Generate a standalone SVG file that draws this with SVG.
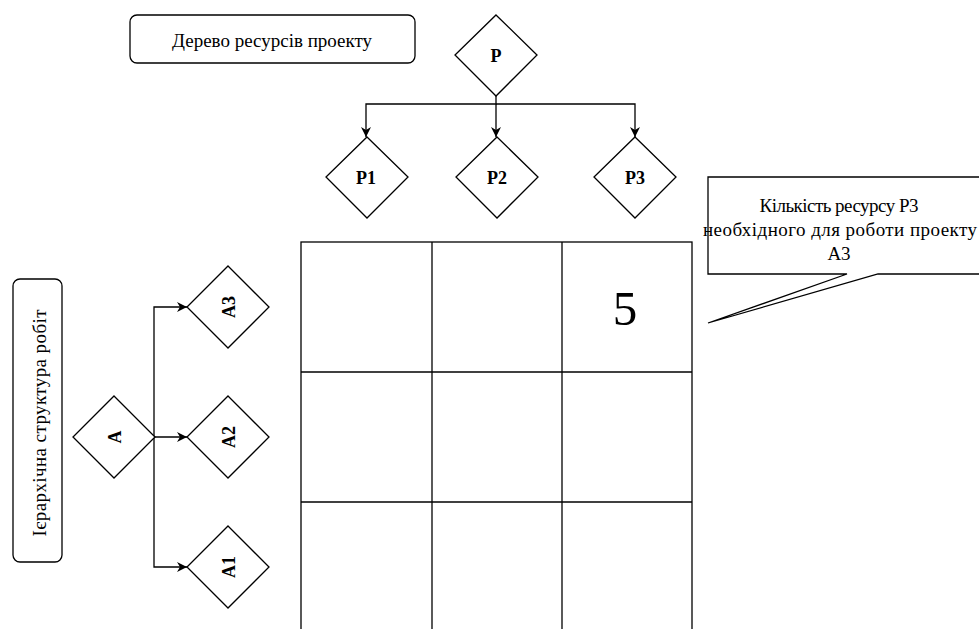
<svg xmlns="http://www.w3.org/2000/svg" width="979" height="629" viewBox="0 0 979 629">
<style>
  .shape { fill: #ffffff; stroke: #000000; stroke-width: 1.3; }
  .line { fill: none; stroke: #000000; stroke-width: 1.3; }
  .lbl { font-family: 'Liberation Serif', 'Times New Roman', serif; fill: #000000; text-anchor: middle; dominant-baseline: central; }
  .big { font-size: 19px; }
  .bold { font-size: 18px; font-weight: bold; }
</style>
<defs>
  <marker id="arr" viewBox="0 0 10 10" refX="10" refY="5" markerWidth="10" markerHeight="10" markerUnits="userSpaceOnUse" orient="auto">
    <path d="M0,0 L10,5 L0,10 L3,5 Z" fill="#000000"/>
  </marker>
</defs>
<rect width="979" height="629" fill="#ffffff"/>

<g id="connectors">
  <path class="line" d="M496,96 V104 H366 V137" marker-end="url(#arr)"/>
  <path class="line" d="M496,104 V137" marker-end="url(#arr)"/>
  <path class="line" d="M496,104 H635 V137" marker-end="url(#arr)"/>
  <path class="line" d="M154,437 H187" marker-end="url(#arr)"/>
  <path class="line" d="M154,437 V307 H187" marker-end="url(#arr)"/>
  <path class="line" d="M154,437 V567 H187" marker-end="url(#arr)"/>
</g>

<g id="title-resources">
  <rect class="shape" x="130" y="15" width="285" height="48" rx="7"/>
  <text class="lbl big" x="272" y="40" textLength="200">Дерево ресурсів проекту</text>
</g>

<g id="title-works">
  <rect class="shape" x="13" y="279" width="49" height="283" rx="7"/>
  <text class="lbl big" transform="translate(39,423) rotate(-90)" textLength="227">Ієрархічна структура робіт</text>
</g>

<g id="node-P">
  <polygon class="shape" points="496,15 537,55 496,96 455,55"/>
  <text class="lbl bold" x="496" y="56">P</text>
</g>
<g id="node-P1">
  <polygon class="shape" points="367,137 408,177 367,218 326,177"/>
  <text class="lbl bold" x="366" y="178">P1</text>
</g>
<g id="node-P2">
  <polygon class="shape" points="497,137 538,177 497,218 456,177"/>
  <text class="lbl bold" x="497" y="178">P2</text>
</g>
<g id="node-P3">
  <polygon class="shape" points="635,137 676,177 635,218 594,177"/>
  <text class="lbl bold" x="635" y="178">P3</text>
</g>

<g id="node-A">
  <polygon class="shape" points="114,396 155,437 114,478 73,437"/>
  <text class="lbl bold" transform="translate(115,437) rotate(-90)">A</text>
</g>
<g id="node-A3">
  <polygon class="shape" points="228,266 269,307 228,348 187,307"/>
  <text class="lbl bold" transform="translate(229,307) rotate(-90)">A3</text>
</g>
<g id="node-A2">
  <polygon class="shape" points="228,396 269,437 228,478 187,437"/>
  <text class="lbl bold" transform="translate(229,437) rotate(-90)">A2</text>
</g>
<g id="node-A1">
  <polygon class="shape" points="228,526 269,567 228,608 187,567"/>
  <text class="lbl bold" transform="translate(229,567) rotate(-90)">A1</text>
</g>

<g id="matrix">
  <rect class="shape" x="301" y="242" width="391" height="400"/>
  <line class="line" x1="432" y1="242" x2="432" y2="640"/>
  <line class="line" x1="562" y1="242" x2="562" y2="640"/>
  <line class="line" x1="301" y1="372" x2="692" y2="372"/>
  <line class="line" x1="301" y1="502" x2="692" y2="502"/>
  <text x="625" y="325" text-anchor="middle" font-family="Liberation Serif, serif" font-size="49" fill="#000000">5</text>
</g>

<g id="callout">
  <path class="shape" d="M708,177 H990 V274 H878 L708,323 L847,274 H708 Z"/>
  <text class="lbl big" x="839" y="205" textLength="159">Кількість ресурсу Р3</text>
  <text class="lbl big" x="840" y="229" textLength="274">необхідного для роботи проекту</text>
  <text class="lbl big" x="839" y="253">А3</text>
</g>
</svg>
